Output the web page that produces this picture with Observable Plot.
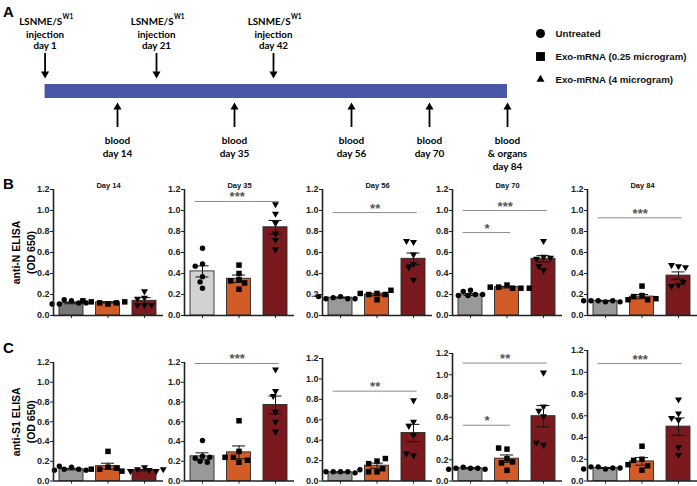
<!DOCTYPE html>
<html><head><meta charset="utf-8">
<script src="https://cdn.jsdelivr.net/npm/d3@7"></script>
<script src="https://cdn.jsdelivr.net/npm/@observablehq/plot@0.6"></script>
<style>
body{margin:0;background:#fff;}
#root{position:relative;width:697px;height:486px;overflow:hidden;background:#fff;}
#root svg{position:absolute;background:transparent!important;overflow:visible;font-family:'Liberation Sans', Arial, Helvetica, sans-serif !important;}
#root svg text{font-weight:700;}
#root svg.tl{font-family:Lato, 'Liberation Sans', Arial, sans-serif !important;}
</style></head><body><div id="root"></div>
<script>
// ---------------- DATA ----------------
const groups = ["Untreated", "Exo-mRNA (0.25 microgram)", "Exo-mRNA (4 microgram)"];
const dayTitles = ["Day 14", "Day 35", "Day 56", "Day 70", "Day 84"];

// Panel A timeline
const injectionDays = [1, 21, 42];
const injectionAgent = "LSNME/S";
const injectionAgentSup = "W1";
const bloodDays = [14, 35, 56, 70, 84];
const bloodLabels = ["blood\nday 14", "blood\nday 35", "blood\nday 56", "blood\nday 70", "blood\n& organs\nday 84"];

// Panel B: anti-N ELISA (OD 650) — [day][group]
const antiN_mean = [[0.12, 0.125, 0.14], [0.42, 0.35, 0.84], [0.17, 0.20, 0.54], [0.20, 0.27, 0.54], [0.14, 0.18, 0.38]];
const antiN_sem  = [[0.008, 0.006, 0.03], [0.053, 0.035, 0.065], [0.004, 0.012, 0.055], [0.01, 0.008, 0.03], [0.003, 0.02, 0.035]];
const antiN_points = [
  [[0.14, 0.15, 0.12, 0.11, 0.12, 0.11], [0.11, 0.12, 0.12, 0.13, 0.13, 0.14], [0.23, 0.17, 0.16, 0.10, 0.10, 0.10]],
  [[0.64, 0.49, 0.47, 0.37, 0.32, 0.26], [0.48, 0.40, 0.34, 0.33, 0.31, 0.25], [1.06, 0.97, 0.88, 0.78, 0.72, 0.63]],
  [[0.18, 0.17, 0.16, 0.16, 0.16, 0.18], [0.21, 0.20, 0.20, 0.21, 0.15, 0.24], [0.70, 0.71, 0.58, 0.49, 0.46, 0.34]],
  [[0.24, 0.23, 0.20, 0.19, 0.19, 0.20], [0.29, 0.27, 0.26, 0.26, 0.27, 0.26], [0.71, 0.56, 0.54, 0.55, 0.43, 0.47]],
  [[0.13, 0.14, 0.14, 0.14, 0.13, 0.14], [0.28, 0.19, 0.18, 0.15, 0.15, 0.16], [0.47, 0.48, 0.46, 0.29, 0.28, 0.32]]
];
// significance: [fromGroup, toGroup, level, stars]
const antiN_sig = [[], [[0, 2, 1.086, "***"]], [[0, 2, 0.98, "**"]], [[0, 2, 1.0, "***"], [0, 1, 0.79, "*"]], [[0, 2, 0.93, "***"]]];

// Panel C: anti-S1 ELISA (OD 650)
const antiS1_mean = [[0.12, 0.15, 0.11], [0.25, 0.29, 0.77], [0.085, 0.15, 0.47], [0.12, 0.21, 0.61], [0.12, 0.18, 0.50]];
const antiS1_sem  = [[0.008, 0.03, 0.008], [0.035, 0.065, 0.09], [0.005, 0.025, 0.085], [0.005, 0.035, 0.10], [0.004, 0.035, 0.08]];
const antiS1_points = [
  [[0.14, 0.12, 0.12, 0.15, 0.11, 0.11], [0.30, 0.14, 0.12, 0.13, 0.12, 0.10], [0.14, 0.12, 0.11, 0.10, 0.10, 0.12]],
  [[0.41, 0.25, 0.23, 0.20, 0.19, 0.24], [0.61, 0.30, 0.19, 0.24, 0.21, 0.24], [1.13, 0.91, 0.86, 0.70, 0.60, 0.50]],
  [[0.09, 0.09, 0.09, 0.09, 0.08, 0.11], [0.195, 0.17, 0.22, 0.09, 0.09, 0.12], [0.79, 0.58, 0.54, 0.25, 0.27, 0.45]],
  [[0.12, 0.13, 0.12, 0.12, 0.11, 0.11], [0.30, 0.31, 0.21, 0.17, 0.18, 0.10], [1.02, 0.70, 0.66, 0.61, 0.34, 0.36]],
  [[0.11, 0.13, 0.12, 0.13, 0.12, 0.11], [0.32, 0.20, 0.19, 0.10, 0.14, 0.15], [0.75, 0.62, 0.56, 0.58, 0.31, 0.24]]
];
const antiS1_sig = [[], [[0, 2, 1.19, "***"]], [[0, 2, 0.88, "**"]], [[0, 2, 1.11, "**"], [0, 1, 0.525, "*"]], [[0, 2, 1.08, "***"]]];

const yTicks = [0, 0.2, 0.4, 0.6, 0.8, 1.0, 1.2];

// ---------------- STYLE / LAYOUT ----------------
const FONT = "'Liberation Sans', Arial, Helvetica, sans-serif";
const orange = "#d35b27", darkRed = "#7a1a1e";
const grayB = ["#777777", "#d2d2d2", "#999999", "#999999", "#999999"];
const grayC = ["#999999", "#999999", "#999999", "#999999", "#999999"];
const symbols = ["circle", "square", "triangle"];
const dotR = [2.7, 3.1, 2.6];
const axisXs = [53, 184, 322, 452, 587];
const root = document.getElementById("root");
function place(svg, left, top, cls) {
  svg.style.left = left + "px"; svg.style.top = top + "px";
  if (cls) svg.classList.add(cls);
  root.appendChild(svg);
}

// simple beeswarm-style horizontal dodge (pixels)
function dodge(vals, ppu, r) {
  const placed = [];
  const step = r * 0.9;
  return vals.map(v => {
    const py = v * ppu;
    let off = 0;
    for (let k = 0; k < 60; k++) {
      const c = k === 0 ? 0 : (k % 2 ? -1 : 1) * Math.ceil(k / 2) * step;
      if (placed.every(p => (p.x - c) ** 2 + (p.y - py) ** 2 >= (2 * r) ** 2)) { off = c; break; }
    }
    placed.push({x: off, y: py});
    return off;
  });
}

// ---------------- PANEL A ----------------
{
  const W = 520, H = 170, mt = 53, mb = 43;
  const timeline = [{start: injectionDays[0], end: bloodDays[bloodDays.length - 1]}];
  const svg = Plot.plot({
    width: W, height: H, marginLeft: 39, marginRight: 13, marginTop: mt, marginBottom: mb,
    x: {domain: [0, 84], axis: null},
    style: {background: "transparent", overflow: "visible"},
    marks: [
      Plot.rect(timeline, {x1: "start", x2: "end", insetTop: 31, insetBottom: 29, fill: "#4a56a6"}),
      Plot.ruleX(injectionDays, {x: d => d, insetBottom: 52, stroke: "#000", strokeWidth: 1.8}),
      Plot.dot(injectionDays, {x: d => d, frameAnchor: "top", dy: 20.3, symbol: "triangle", rotate: 180, r: 3, fill: "#000"}),
      Plot.ruleX(bloodDays, {x: d => d, insetTop: 52, stroke: "#000", strokeWidth: 1.8}),
      Plot.dot(bloodDays, {x: d => d, frameAnchor: "bottom", dy: -20.3, symbol: "triangle", r: 3, fill: "#000"}),
      Plot.text(injectionDays, {x: d => d, text: () => injectionAgent, textAnchor: "end", dx: 17, frameAnchor: "top", dy: -35, fontSize: 9.8, fill: "#000"}),
      Plot.text(injectionDays, {x: d => d, text: () => injectionAgentSup, textAnchor: "start", dx: 17.5, frameAnchor: "top", dy: -39, fontSize: 6.5, fill: "#000"}),
      Plot.text(injectionDays, {x: d => d, text: d => "injection\nday " + d, frameAnchor: "top", dy: -4.5, lineAnchor: "bottom", lineHeight: 1.12, fontSize: 9.8, fill: "#000"}),
      Plot.text(bloodDays, {x: d => d, text: (d, i) => bloodLabels[i], frameAnchor: "bottom", dy: 7, lineAnchor: "top", lineHeight: 1.3, fontSize: 10, fill: "#000"}),
      Plot.text(["A"], {text: d => d, frameAnchor: "top-left", textAnchor: "middle", dx: -31, dy: -47, fontSize: 15, fontFamily: FONT, fill: "#000"})
    ]
  });
  place(svg, 0, 0, "tl");
}

// ---------------- LEGEND ----------------
{
  const svg = Plot.plot({
    width: 177, height: 100, marginLeft: 20, marginRight: 0, marginTop: 33, marginBottom: 21,
    y: {type: "point", domain: groups, padding: 0, axis: null},
    style: {background: "transparent", overflow: "visible"},
    marks: [
      ...groups.map((g, i) => Plot.dot([g], {y: d => d, frameAnchor: "left", symbol: symbols[i], r: [4.5, 5, 3][i], fill: "#000"})),
      Plot.text(groups, {y: d => d, text: d => d, frameAnchor: "left", dx: 15, textAnchor: "start", fontSize: 9.7, fill: "#111"})
    ]
  });
  place(svg, 520, 0);
}

// ---------------- BAR SUBPLOTS ----------------
function subplot(o) {
  const ml = o.first ? 53 : 30, mr = 4, plotW = 110, mb = 9;
  const mt = o.frameTop - o.svgTop;
  const H = mt + (o.frameBottom - o.frameTop) + mb;
  const ppu = (o.frameBottom - o.frameTop) / 1.2;
  const ppx = 36.5;
  const xDomain = [-18 / ppx, (plotW - 18) / ppx];
  const fills = [o.gray, orange, darkRed];
  const bars = groups.map((g, i) => ({i, mean: o.means[i], sem: o.sems[i], fill: fills[i]}));
  const dots = groups.map((g, i) => {
    const off = dodge(o.points[i], ppu, dotR[i]);
    return o.points[i].map((v, j) => ({x: i + off[j] / ppx, v}));
  });
  const sig = o.sig.map(([a, b, level, stars]) => ({a, b, level, stars}));
  const marks = [
    Plot.rect(bars, {x1: d => d.i - 12 / ppx, x2: d => d.i + 12 / ppx, y1: 0, y2: d => d.mean, fill: d => d.fill, stroke: "#2a2a2a", strokeWidth: 0.9}),
    ...groups.map((g, i) => Plot.dot(dots[i], {x: "x", y: "v", symbol: symbols[i], r: dotR[i], rotate: i === 2 ? 180 : 0, fill: "#000", stroke: "none"})),
    Plot.ruleX(bars, {x: "i", y1: d => d.mean - d.sem, y2: d => d.mean + d.sem, stroke: "#111", strokeWidth: 1}),
    Plot.ruleY(bars, {y: d => d.mean + d.sem, x1: d => d.i - 6.5 / ppx, x2: d => d.i + 6.5 / ppx, stroke: "#111", strokeWidth: 1}),
    Plot.ruleY(bars, {y: d => d.mean - d.sem, x1: d => d.i - 6.5 / ppx, x2: d => d.i + 6.5 / ppx, stroke: "#111", strokeWidth: 1}),
    Plot.ruleY(sig, {y: "level", x1: d => d.a - 0.2, x2: d => d.b + 0.1, stroke: "#8a8a8a", strokeWidth: 1}),
    Plot.text(sig, {x: d => (d.a - 0.2 + d.b + 0.1) / 2, y: "level", text: "stars", dy: 0, lineAnchor: "bottom", fontSize: 13, fill: "#555"}),
    Plot.axisY({ticks: yTicks, tickFormat: d3.format(".1f"), tickSize: 3, tickPadding: 1, fontSize: 9, fill: "#222", stroke: "#222", label: null}),
    Plot.axisX({ticks: [0, 1, 2], tickFormat: () => "", tickSize: 3, stroke: "#222", label: null}),
    Plot.ruleY([0], {stroke: "#222", strokeWidth: 1.6}),
    Plot.ruleX([xDomain[0]], {stroke: "#222", strokeWidth: 1.6})
  ];
  if (o.title) marks.push(Plot.text([o.title], {text: d => d, frameAnchor: "top", dy: -6.5, fontSize: 7.5, fill: "#111"}));
  if (o.yLabel) marks.push(Plot.text([o.yLabel], {text: d => d, frameAnchor: "left", textAnchor: "middle", dx: -31, rotate: -90, lineHeight: 1.5, fontSize: 10.5, fill: "#000"}));
  if (o.letter) marks.push(Plot.text([o.letter], {text: d => d, frameAnchor: "top-left", textAnchor: "middle", dx: -45, dy: o.letterDy, fontSize: 15, fill: "#000"}));
  const svg = Plot.plot({
    width: ml + plotW + mr, height: H, marginLeft: ml, marginRight: mr, marginTop: mt, marginBottom: mb,
    x: {domain: xDomain},
    y: {domain: [0, 1.2]},
    style: {background: "transparent", overflow: "visible"},
    marks
  });
  place(svg, o.axisX - ml, o.svgTop);
}

const cTops = [362, 362, 358, 353, 350];
dayTitles.forEach((t, k) => {
  subplot({
    first: k === 0, axisX: axisXs[k], svgTop: 168, frameTop: 189, frameBottom: 315,
    means: antiN_mean[k], sems: antiN_sem[k], points: antiN_points[k], sig: antiN_sig[k],
    gray: grayB[k], title: t,
    yLabel: k === 0 ? "anti-N ELISA\n(OD 650)" : null, letter: k === 0 ? "B" : null, letterDy: -11
  });
  subplot({
    first: k === 0, axisX: axisXs[k], svgTop: 330, frameTop: cTops[k], frameBottom: 480.5,
    means: antiS1_mean[k], sems: antiS1_sem[k], points: antiS1_points[k], sig: antiS1_sig[k],
    gray: grayC[k], title: null,
    yLabel: k === 0 ? "anti-S1 ELISA\n(OD 650)" : null, letter: k === 0 ? "C" : null, letterDy: -20
  });
});
</script></body></html>
